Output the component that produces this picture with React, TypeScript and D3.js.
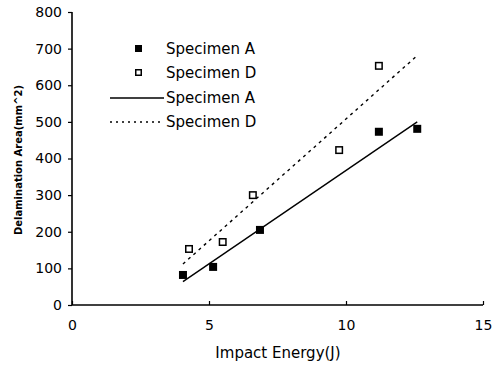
import React, { useEffect, useRef } from "react";
import * as d3 from "d3";

// measured points
const energyA = [4.05, 5.15, 6.86, 11.2, 12.6];
const areaA = [82, 104, 205, 473, 481];
const energyD = [4.27, 5.5, 6.6, 9.75, 11.2];
const areaD = [153, 172, 300, 423, 653];

// trend lines (end points)
const fitEnergy = [4.05, 12.6];
const fitA = [64, 500];
const fitD = [112, 681];

const xTicks = [0, 5, 10, 15];
const yTicks = [0, 100, 200, 300, 400, 500, 600, 700, 800];

const legendNames = ["Specimen A", "Specimen D", "Specimen A", "Specimen D"];

export default function App() {
  const ref = useRef<SVGSVGElement>(null);

  useEffect(() => {
    const svg = d3.select(ref.current);
    svg.selectAll("*").remove();
    const font = "'DejaVu Sans', Verdana, sans-serif";

    const x = d3.scaleLinear().domain([0, 15]).range([72, 483]);
    const y = d3.scaleLinear().domain([0, 800]).range([305, 12]);

    // axes
    const yAxis = svg.append("g")
      .attr("transform", "translate(72,0)")
      .call(d3.axisLeft(y).tickValues(yTicks).tickSize(4).tickFormat(d3.format("d")));
    yAxis.select(".domain").attr("stroke-width", 1.6).attr("d", "M0,12V305");
    yAxis.selectAll("line").attr("stroke-width", 1.2);
    yAxis.selectAll("text")
      .attr("x", -10)
      .style("font-family", font)
      .style("font-size", "14px")
      .attr("fill", "#000");

    const xAxis = svg.append("g")
      .attr("transform", "translate(0,305)")
      .call(d3.axisBottom(x).tickValues(xTicks).tickSize(-4).tickFormat(d3.format("d")));
    xAxis.select(".domain").attr("stroke-width", 1.6).attr("d", "M72,0H483");
    xAxis.selectAll("line").attr("stroke-width", 1.2);
    xAxis.selectAll("text")
      .attr("y", 15)
      .style("font-family", font)
      .style("font-size", "14px")
      .attr("fill", "#000");

    // trend lines
    const line = d3.line<number>().x((d, i) => x(fitEnergy[i])).y(d => y(d));
    svg.append("path").attr("d", line(fitA)).attr("fill", "none")
      .attr("stroke", "#000").attr("stroke-width", 1.4);
    svg.append("path").attr("d", line(fitD)).attr("fill", "none")
      .attr("stroke", "#000").attr("stroke-width", 1.4).attr("stroke-dasharray", "3,4");

    // markers
    const s = 8;
    svg.append("g").selectAll("rect").data(energyA).enter().append("rect")
      .attr("x", (d) => x(d) - s / 2)
      .attr("y", (d, i) => y(areaA[i]) - s / 2)
      .attr("width", s).attr("height", s).attr("fill", "#000");
    svg.append("g").selectAll("rect").data(energyD).enter().append("rect")
      .attr("x", (d) => x(d) - s / 2 + 0.75)
      .attr("y", (d, i) => y(areaD[i]) - s / 2 + 0.75)
      .attr("width", s - 1.5).attr("height", s - 1.5)
      .attr("fill", "#fff").attr("stroke", "#000").attr("stroke-width", 1.5);

    // legend
    const legY = [49, 73, 98, 122];
    const leg = svg.append("g");
    leg.append("rect").attr("x", 135).attr("y", legY[0] - 4).attr("width", 7).attr("height", 7).attr("fill", "#000");
    leg.append("rect").attr("x", 135.75).attr("y", legY[1] - 3.25).attr("width", 5.5).attr("height", 5.5)
      .attr("fill", "#fff").attr("stroke", "#000").attr("stroke-width", 1.5);
    leg.append("line").attr("x1", 110).attr("x2", 164).attr("y1", legY[2]).attr("y2", legY[2])
      .attr("stroke", "#000").attr("stroke-width", 1.3);
    leg.append("line").attr("x1", 110).attr("x2", 164).attr("y1", legY[3]).attr("y2", legY[3])
      .attr("stroke", "#000").attr("stroke-width", 1.3).attr("stroke-dasharray", "2,4");
    leg.selectAll("text.lg").data(legendNames).enter().append("text")
      .attr("x", 166).attr("y", (d, i) => legY[i] + 5)
      .style("font-family", font).style("font-size", "15px")
      .text(d => d);

    // axis titles
    svg.append("text")
      .attr("x", 278).attr("y", 358)
      .attr("text-anchor", "middle")
      .style("font-family", font).style("font-size", "15px")
      .text("Impact Energy(J)");
    svg.append("text")
      .attr("transform", "translate(22,160) rotate(-90)")
      .attr("text-anchor", "middle")
      .style("font-family", font).style("font-size", "10px").style("font-weight", "bold")
      .text("Delamination Area(mm^2)");
  }, []);

  return (
    <svg ref={ref} width={499} height={368}
      style={{ position: "absolute", left: 0, top: 0, background: "#fff" }} />
  );
}
